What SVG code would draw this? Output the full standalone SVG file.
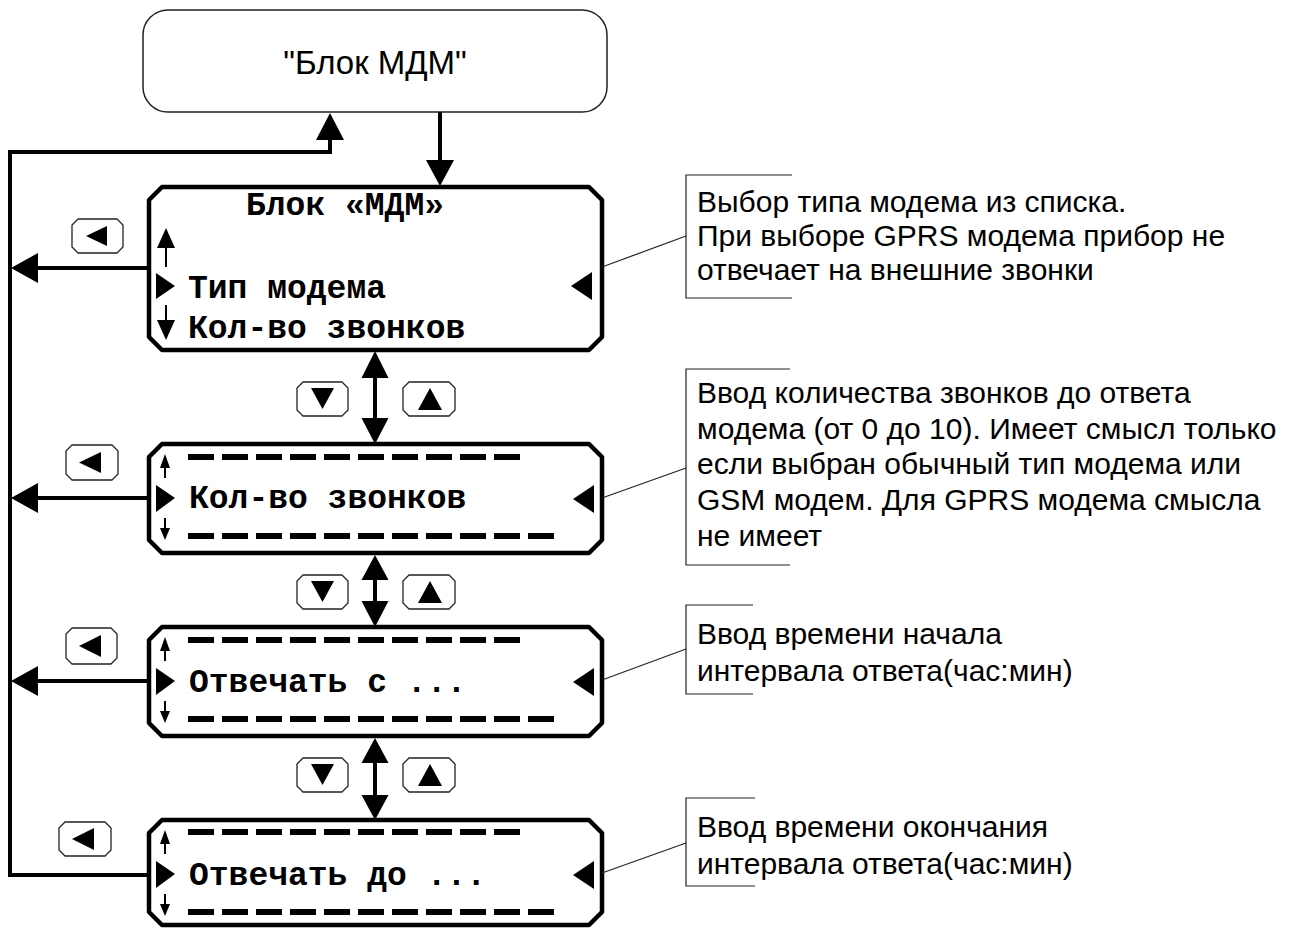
<svg xmlns="http://www.w3.org/2000/svg" width="1299" height="929" viewBox="0 0 1299 929">
<style>
.bg{fill:#fff}
.start{fill:#fff;stroke:#222;stroke-width:1.5}
.scr{fill:#fff;stroke:#000;stroke-width:4.5;stroke-linejoin:round}
.btn{fill:#fff;stroke:#222;stroke-width:1.3;stroke-linejoin:round}
.tri{fill:#000}
.con{fill:none;stroke:#000;stroke-width:4}
.thin{fill:none;stroke:#000;stroke-width:2}
.dash{fill:none;stroke:#000;stroke-width:6;stroke-dasharray:26 8}
.lead{fill:none;stroke:#222;stroke-width:1.2}
.mono{font-family:"Liberation Mono","Courier New",monospace;font-weight:bold;font-size:33px;fill:#000}
.sans{font-family:"Liberation Sans",Arial,sans-serif;font-size:30px;fill:#000}
.title{font-family:"Liberation Sans",Arial,sans-serif;font-size:33px;fill:#000}
</style>
<rect class="bg" x="0" y="0" width="1299" height="929"/>

<g id="start">
<rect class="start" x="143" y="10" width="464" height="102" rx="25" ry="25"/>
<text class="title" x="375" y="74" text-anchor="middle">"Блок МДМ"</text>
</g>

<g id="screen1">
<path class="scr" d="M162,187 H589 L602,200 V337 L589,350 H162 L149,337 V200 Z"/>
<text class="mono" x="246" y="215">Блок «МДМ»</text>
<text class="mono" x="188" y="298">Тип модема</text>
<text class="mono" x="188" y="338">Кол-во звонков</text>
<polygon class="tri" points="157,248 166,228 175,248"/>
<line class="thin" x1="166" y1="246" x2="166" y2="267"/>
<polygon class="tri" points="156,273 175,286 156,299"/>
<line class="thin" x1="166" y1="305" x2="166" y2="322"/>
<polygon class="tri" points="157,320 175,320 166,340"/>
<polygon class="tri" points="592,272 571,286 592,300"/>
</g>

<g id="screen2">
<path class="scr" d="M162,444 H589 L602,457 V540 L589,553 H162 L149,540 V457 Z"/>
<line class="dash" x1="188" y1="457" x2="520" y2="457"/>
<text class="mono" x="189" y="508">Кол-во звонков</text>
<line class="dash" x1="188" y1="536" x2="554" y2="536"/>
<polygon class="tri" points="160,468 165,454 170,468"/>
<line class="thin" x1="165" y1="466" x2="165" y2="478"/>
<polygon class="tri" points="156,485 175,498 156,512"/>
<line class="thin" x1="165" y1="518" x2="165" y2="530"/>
<polygon class="tri" points="160,528 170,528 165,540"/>
<polygon class="tri" points="594,485 573,499 594,513"/>
</g>

<g id="screen3">
<path class="scr" d="M162,627 H589 L602,640 V723 L589,736 H162 L149,723 V640 Z"/>
<line class="dash" x1="188" y1="640" x2="520" y2="640"/>
<text class="mono" x="189" y="692">Отвечать с ...</text>
<line class="dash" x1="188" y1="719" x2="554" y2="719"/>
<polygon class="tri" points="160,651 165,637 170,651"/>
<line class="thin" x1="165" y1="649" x2="165" y2="661"/>
<polygon class="tri" points="156,668 175,681 156,695"/>
<line class="thin" x1="165" y1="701" x2="165" y2="713"/>
<polygon class="tri" points="160,711 170,711 165,723"/>
<polygon class="tri" points="594,668 573,682 594,696"/>
</g>

<g id="screen4">
<path class="scr" d="M162,820 H589 L602,833 V912 L589,925 H162 L149,912 V833 Z"/>
<line class="dash" x1="188" y1="832" x2="520" y2="832"/>
<text class="mono" x="189" y="885">Отвечать до ...</text>
<line class="dash" x1="188" y1="912" x2="554" y2="912"/>
<polygon class="tri" points="160,844 165,830 170,844"/>
<line class="thin" x1="165" y1="842" x2="165" y2="854"/>
<polygon class="tri" points="156,861 175,874 156,888"/>
<line class="thin" x1="165" y1="894" x2="165" y2="906"/>
<polygon class="tri" points="160,904 170,904 165,916"/>
<polygon class="tri" points="594,861 573,875 594,889"/>
</g>

<g id="buttons">
<path class="btn" d="M78,219 H117 L123,225 V247 L117,253 H78 L72,247 V225 Z"/>
<polygon class="tri" points="107,226 107,246 86,236"/>
<path class="btn" d="M72,445 H112 L118,451 V474 L112,480 H72 L66,474 V451 Z"/>
<polygon class="tri" points="101,452 101,473 79,462.5"/>
<path class="btn" d="M72,628 H111 L117,634 V658 L111,664 H72 L66,658 V634 Z"/>
<polygon class="tri" points="101,635 101,657 79,646"/>
<path class="btn" d="M65,822 H105 L111,828 V850 L105,856 H65 L59,850 V828 Z"/>
<polygon class="tri" points="94,828 94,850 72,839"/>

<path class="btn" d="M303,382 H342 L348,388 V410 L342,416 H303 L297,410 V388 Z"/>
<polygon class="tri" points="311,388 334,388 322.5,409"/>
<path class="btn" d="M409,382 H449 L455,388 V410 L449,416 H409 L403,410 V388 Z"/>
<polygon class="tri" points="418,410 442,410 430,388"/>

<path class="btn" d="M303,575 H342 L348,581 V603 L342,609 H303 L297,603 V581 Z"/>
<polygon class="tri" points="311,581 334,581 322.5,602"/>
<path class="btn" d="M409,575 H449 L455,581 V603 L449,609 H409 L403,603 V581 Z"/>
<polygon class="tri" points="418,603 442,603 430,581"/>

<path class="btn" d="M303,758 H342 L348,764 V786 L342,792 H303 L297,786 V764 Z"/>
<polygon class="tri" points="311,764 334,764 322.5,785"/>
<path class="btn" d="M409,758 H449 L455,764 V786 L449,792 H409 L403,786 V764 Z"/>
<polygon class="tri" points="418,786 442,786 430,764"/>
</g>

<g id="connectors">
<line class="con" x1="440" y1="112" x2="440" y2="162"/>
<polygon class="tri" points="426,160 454,160 440,186"/>
<path class="con" d="M149,875 H10 V152 H330 V138"/>
<polygon class="tri" points="316,140 344,140 330,113"/>
<line class="con" x1="149" y1="268" x2="36" y2="268"/>
<polygon class="tri" points="38,253 38,283 11,268"/>
<line class="con" x1="149" y1="498" x2="36" y2="498"/>
<polygon class="tri" points="38,483 38,513 11,498"/>
<line class="con" x1="149" y1="681" x2="36" y2="681"/>
<polygon class="tri" points="38,666 38,696 11,681"/>

<line class="con" x1="375" y1="376" x2="375" y2="420"/>
<polygon class="tri" points="361.5,378 388.5,378 375,351"/>
<polygon class="tri" points="361.5,418 388.5,418 375,444"/>
<line class="con" x1="375" y1="578" x2="375" y2="603"/>
<polygon class="tri" points="361.5,580 388.5,580 375,555"/>
<polygon class="tri" points="361.5,601 388.5,601 375,627"/>
<line class="con" x1="375" y1="761" x2="375" y2="797"/>
<polygon class="tri" points="361.5,763 388.5,763 375,738"/>
<polygon class="tri" points="361.5,795 388.5,795 375,820"/>
</g>

<g id="note1">
<line class="lead" x1="602" y1="267" x2="686" y2="236"/>
<path class="lead" d="M792,175 H686 V298 H792"/>
<text class="sans" x="697" y="212">Выбор типа модема из списка.</text>
<text class="sans" x="697" y="246">При выборе GPRS модема прибор не</text>
<text class="sans" x="697" y="280">отвечает на внешние звонки</text>
</g>

<g id="note2">
<line class="lead" x1="602" y1="498" x2="686" y2="468"/>
<path class="lead" d="M790,369 H686 V565 H790"/>
<text class="sans" x="697" y="403">Ввод количества звонков до ответа</text>
<text class="sans" x="697" y="439">модема (от 0 до 10). Имеет смысл только</text>
<text class="sans" x="697" y="474">если выбран обычный тип модема или</text>
<text class="sans" x="697" y="510">GSM модем. Для GPRS модема смысла</text>
<text class="sans" x="697" y="546">не имеет</text>
</g>

<g id="note3">
<line class="lead" x1="602" y1="680" x2="686" y2="649"/>
<path class="lead" d="M753,605 H686 V694 H753"/>
<text class="sans" x="697" y="644">Ввод времени начала</text>
<text class="sans" x="697" y="681">интервала ответа(час:мин)</text>
</g>

<g id="note4">
<line class="lead" x1="602" y1="873" x2="686" y2="843"/>
<path class="lead" d="M755,798 H686 V886 H755"/>
<text class="sans" x="697" y="837">Ввод времени окончания</text>
<text class="sans" x="697" y="874">интервала ответа(час:мин)</text>
</g>
</svg>
